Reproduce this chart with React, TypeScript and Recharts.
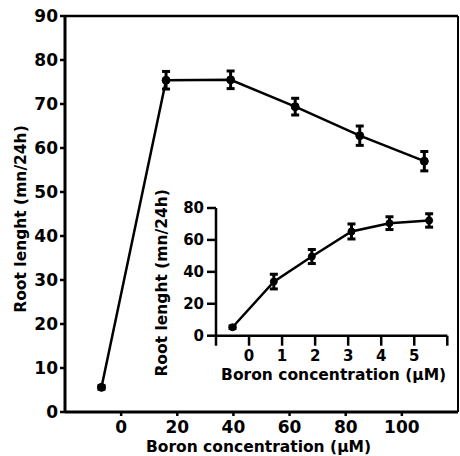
import React from 'react';
import { LineChart, Line, XAxis, YAxis, ErrorBar, ReferenceLine } from 'recharts';

// Main chart data
const mainX = [-7, 16, 39, 62, 85, 108];
const mainY = [5.6, 75.4, 75.5, 69.4, 62.8, 57.0];
const mainErr = [0.4, 2.0, 2.0, 1.9, 2.2, 2.2];
const mainXTicks = [0, 20, 40, 60, 80, 100];
const mainYTicks = [0, 10, 20, 30, 40, 50, 60, 70, 80, 90];

// Inset chart data
const insetX = [-0.5, 0.75, 1.9, 3.1, 4.25, 5.45];
const insetY = [5.3, 33.9, 49.6, 65.3, 70.5, 72.2];
const insetErr = [0.8, 4.6, 4.4, 4.7, 4.0, 4.2];
const insetXTicks = [-1, 0, 1, 2, 3, 4, 5, 6];
const insetXLabels = ['', '0', '1', '2', '3', '4', '5', ''];
const insetYTicks = [0, 20, 40, 60, 80];

const yLabel = 'Root lenght (mn/24h)';
const xLabel = 'Boron concentration (\u03BCM)';

const mainData = mainX.map((x, i) => ({ x, y: mainY[i], err: mainErr[i] }));
const insetData = insetX.map((x, i) => ({ x, y: insetY[i], err: insetErr[i] }));

const FONT = '"DejaVu Sans", sans-serif';

const tickStyleMain = { fontSize: 17, fontWeight: 'bold', fill: '#000', fontFamily: FONT };
const tickStyleInset = { fontSize: 15, fontWeight: 'bold', fill: '#000', fontFamily: FONT };

const mkYLabel = (dx: number, dy: number) => (props: any) => {
  const vb = props.viewBox || {};
  const cx = vb.x + dx;
  const cy = vb.y + vb.height / 2 + dy;
  return (
    <text
      x={cx}
      y={cy}
      transform={`rotate(-90 ${cx} ${cy})`}
      textAnchor="middle"
      dominantBaseline="central"
      style={{ fontSize: 15.5, fontWeight: 'bold', fill: '#000', fontFamily: FONT }}
    >
      {yLabel}
    </text>
  );
};

const mkXLabel = (dx: number, dy: number) => (props: any) => {
  const vb = props.viewBox || {};
  const cx = vb.x + vb.width / 2 + dx;
  const cy = vb.y + dy;
  return (
    <text
      x={cx}
      y={cy}
      textAnchor="middle"
      dominantBaseline="central"
      style={{ fontSize: 15.5, fontWeight: 'bold', fill: '#000', fontFamily: FONT }}
    >
      {xLabel}
    </text>
  );
};

export default function App() {
  return (
    <div style={{ position: 'absolute', left: 0, top: 0, width: 460, height: 456, background: '#fff' }}>
      <div style={{ position: 'absolute', left: 0, top: 0 }}>
        <LineChart width={460} height={456} data={mainData} margin={{ top: 16, right: 2, left: 0, bottom: 0 }}>
          <XAxis
            dataKey="x"
            type="number"
            domain={[-20, 120]}
            ticks={mainXTicks}
            interval={0}
            allowDataOverflow
            height={44}
            tickSize={4}
            tickMargin={5}
            axisLine={{ stroke: '#000', strokeWidth: 3 }}
            tickLine={{ stroke: '#000', strokeWidth: 2.5 }}
            tick={tickStyleMain}
            label={{ content: mkXLabel(-3, 35) }}
          />
          <YAxis
            type="number"
            domain={[0, 90]}
            ticks={mainYTicks}
            interval={0}
            width={65}
            tickSize={5}
            tickMargin={2}
            axisLine={{ stroke: '#000', strokeWidth: 3 }}
            tickLine={{ stroke: '#000', strokeWidth: 2.5 }}
            tick={tickStyleMain}
            label={{ content: mkYLabel(21, 5) }}
          />
          <ReferenceLine y={90} stroke="#000" strokeWidth={2.5} />
          <ReferenceLine x={120} stroke="#000" strokeWidth={2} />
          <Line
            dataKey="y"
            stroke="#000"
            strokeWidth={2.5}
            dot={{ r: 4, fill: '#000', stroke: '#000', strokeWidth: 1 }}
            isAnimationActive={false}
          >
            <ErrorBar dataKey="err" direction="y" width={4} stroke="#000" strokeWidth={3} />
          </Line>
        </LineChart>
      </div>
      <div style={{ position: 'absolute', left: 150, top: 180 }}>
        <LineChart width={310} height={205} data={insetData} margin={{ top: 28, right: 12.7, left: 0, bottom: 0 }}>
          <XAxis
            dataKey="x"
            type="number"
            domain={[-1, 6]}
            ticks={insetXTicks}
            interval={0}
            allowDataOverflow
            height={49.3}
            tickSize={10}
            tickMargin={5}
            tickFormatter={(v: number) => insetXLabels[insetXTicks.indexOf(v)] ?? ''}
            axisLine={{ stroke: '#000', strokeWidth: 2.5 }}
            tickLine={{ stroke: '#000', strokeWidth: 2.5 }}
            tick={tickStyleInset}
            label={{ content: mkXLabel(2, 39) }}
          />
          <YAxis
            type="number"
            domain={[0, 80]}
            ticks={insetYTicks}
            interval={0}
            width={66}
            tickSize={9}
            tickMargin={3}
            axisLine={{ stroke: '#000', strokeWidth: 2.5 }}
            tickLine={{ stroke: '#000', strokeWidth: 2.5 }}
            tick={tickStyleInset}
            label={{ content: mkYLabel(12, 11) }}
          />
          <Line
            dataKey="y"
            stroke="#000"
            strokeWidth={2.5}
            dot={{ r: 3.5, fill: '#000', stroke: '#000', strokeWidth: 1 }}
            isAnimationActive={false}
          >
            <ErrorBar dataKey="err" direction="y" width={4} stroke="#000" strokeWidth={3} />
          </Line>
        </LineChart>
      </div>
    </div>
  );
}
